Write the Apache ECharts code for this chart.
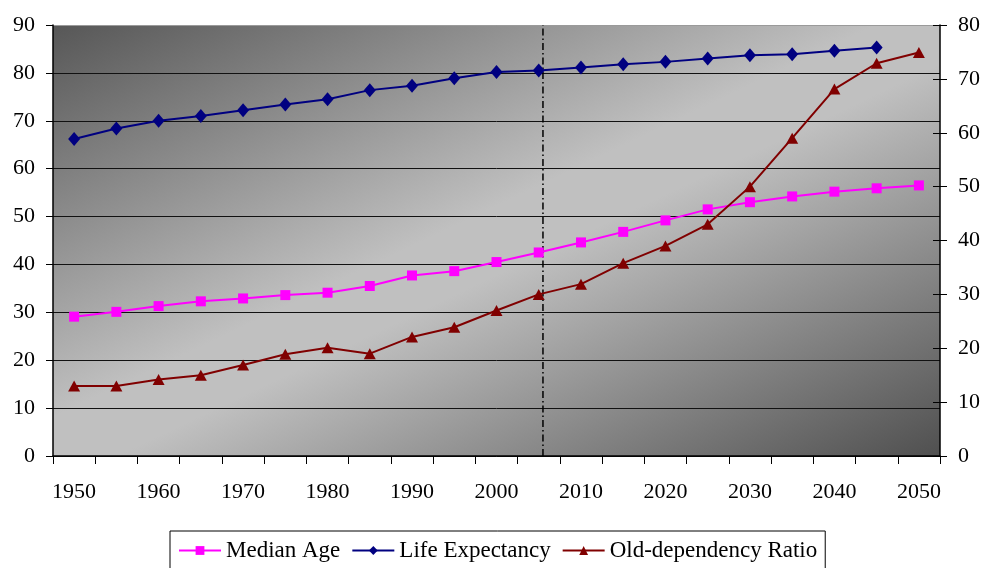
<!DOCTYPE html>
<html>
<head>
<meta charset="utf-8">
<script src="https://cdn.jsdelivr.net/npm/echarts@6/dist/echarts.min.js"></script>
<style>
  html, body { margin: 0; padding: 0; background: #ffffff; }
  #chart { width: 986px; height: 568px; }
</style>
</head>
<body>
<div id="chart"></div>
<script>
// Five-year steps from 1950 to 2050
const years = [1950, 1955, 1960, 1965, 1970, 1975, 1980, 1985, 1990, 1995, 2000,
               2005, 2010, 2015, 2020, 2025, 2030, 2035, 2040, 2045, 2050];

// Left axis (years)
const medianAge = [29.1, 30.1, 31.3, 32.3, 32.9, 33.6, 34.1, 35.5, 37.7, 38.6, 40.5,
                   42.5, 44.6, 46.8, 49.2, 51.5, 53.0, 54.2, 55.2, 55.9, 56.5];
const lifeExpectancy = [66.2, 68.4, 70.0, 71.0, 72.2, 73.4, 74.5, 76.4, 77.3, 78.9, 80.2,
                        80.5, 81.1, 81.8, 82.3, 83.0, 83.7, 83.9, 84.6, 85.3, null];

// Right axis (ratio)
const oldDependencyRatio = [13.0, 13.0, 14.2, 15.0, 16.9, 18.9, 20.1, 19.0, 22.1, 23.9, 27.0,
                            30.0, 31.9, 35.8, 39.0, 43.0, 50.0, 59.0, 68.1, 72.9, 74.9];

// Divider between estimates and projections
const projectionStart = 2005.5;

const seriesNames = ['Median Age', 'Life Expectancy', 'Old-dependency Ratio'];

const leftAxisRange = { min: 0, max: 90, interval: 10 };
const rightAxisRange = { min: 0, max: 80, interval: 10 };

const FONT = '"Liberation Serif", "Times New Roman", serif';
const labelStyle = { color: '#000', fontFamily: FONT, fontSize: 22 };

const chart = echarts.init(document.getElementById('chart'), null, { renderer: 'canvas' });

// Grid lines: black, with a softer top edge
const gridColors = [];
for (let v = leftAxisRange.min; v <= leftAxisRange.max; v += leftAxisRange.interval) {
  gridColors.push(v === leftAxisRange.max ? '#9a9a9a' : '#111');
}

chart.setOption({
  animation: false,
  backgroundColor: '#ffffff',
  grid: {
    left: 53, right: 46, top: 25, bottom: 112,
    show: true,
    borderWidth: 0,
    backgroundColor: new echarts.graphic.LinearGradient(0.312, -0.312, 0.688, 1.312, [
      { offset: 0, color: '#565656' },
      { offset: 0.46, color: '#c0c0c0' },
      { offset: 0.54, color: '#c0c0c0' },
      { offset: 1, color: '#4f4f4f' }
    ])
  },
  legend: {
    data: seriesNames,
    left: 170,
    top: 531,
    padding: [8, 8, 8, 8],
    borderColor: '#000',
    borderWidth: 1,
    backgroundColor: '#fff',
    itemWidth: 42,
    itemHeight: 11,
    itemGap: 11,
    textStyle: { color: '#000', fontFamily: FONT, fontSize: 23 }
  },
  xAxis: [
    {
      type: 'category',
      data: years.map(String),
      boundaryGap: true,
      axisLine: { lineStyle: { color: '#000', width: 1.5 } },
      axisTick: { show: true, interval: 0, length: 8, inside: false, lineStyle: { color: '#000' } },
      axisLabel: Object.assign({ interval: 1, margin: 25 }, labelStyle),
      splitLine: { show: false }
    },
    {
      // continuous year scale used to place the divider
      type: 'value',
      min: years[0] - 2.5,
      max: years[years.length - 1] + 2.5,
      show: false
    },
    {
      // inner half of the crossing ticks
      type: 'category',
      data: years.map(String),
      boundaryGap: true,
      axisLine: { show: false },
      axisTick: { show: true, interval: 0, length: 8, inside: true, lineStyle: { color: '#000' } },
      axisLabel: { show: false },
      splitLine: { show: false }
    }
  ],
  yAxis: [
    {
      type: 'value',
      position: 'left',
      min: leftAxisRange.min, max: leftAxisRange.max, interval: leftAxisRange.interval,
      axisLine: { show: true, lineStyle: { color: '#000', width: 1.5 } },
      axisTick: { show: true, length: 7, lineStyle: { color: '#000' } },
      axisLabel: Object.assign({ margin: 18 }, labelStyle),
      splitLine: { show: true, lineStyle: { color: gridColors, width: 1 } }
    },
    {
      type: 'value',
      position: 'right',
      min: rightAxisRange.min, max: rightAxisRange.max, interval: rightAxisRange.interval,
      axisLine: { show: true, lineStyle: { color: '#000', width: 1.5 } },
      axisTick: { show: true, length: 7, lineStyle: { color: '#000' } },
      axisLabel: Object.assign({ margin: 18 }, labelStyle),
      splitLine: { show: false }
    },
    {
      type: 'value',
      position: 'right',
      min: rightAxisRange.min, max: rightAxisRange.max, interval: rightAxisRange.interval,
      axisLine: { show: false },
      axisTick: { show: true, length: 7, inside: true, lineStyle: { color: '#000' } },
      axisLabel: { show: false },
      splitLine: { show: false }
    }
  ],
  series: [
    {
      name: 'Projection start',
      type: 'line',
      xAxisIndex: 1,
      yAxisIndex: 0,
      data: [[projectionStart, leftAxisRange.min], [projectionStart, leftAxisRange.max]],
      symbol: 'none',
      silent: true,
      z: 1,
      lineStyle: { color: '#000', width: 1.5, type: [7, 3, 1.5, 3] }
    },
    {
      name: seriesNames[0],
      type: 'line',
      xAxisIndex: 0,
      yAxisIndex: 0,
      data: medianAge,
      symbol: 'rect',
      symbolSize: 10,
      itemStyle: { color: '#ff00ff' },
      lineStyle: { color: '#ff00ff', width: 2 },
      z: 3
    },
    {
      name: seriesNames[1],
      type: 'line',
      xAxisIndex: 0,
      yAxisIndex: 0,
      data: lifeExpectancy,
      symbol: 'diamond',
      symbolSize: [12, 14],
      itemStyle: { color: '#000080' },
      lineStyle: { color: '#000080', width: 2 },
      z: 3
    },
    {
      name: seriesNames[2],
      type: 'line',
      xAxisIndex: 0,
      yAxisIndex: 1,
      data: oldDependencyRatio,
      symbol: 'triangle',
      symbolSize: [12, 11],
      itemStyle: { color: '#800000' },
      lineStyle: { color: '#800000', width: 2 },
      z: 3
    }
  ]
});
</script>
</body>
</html>
